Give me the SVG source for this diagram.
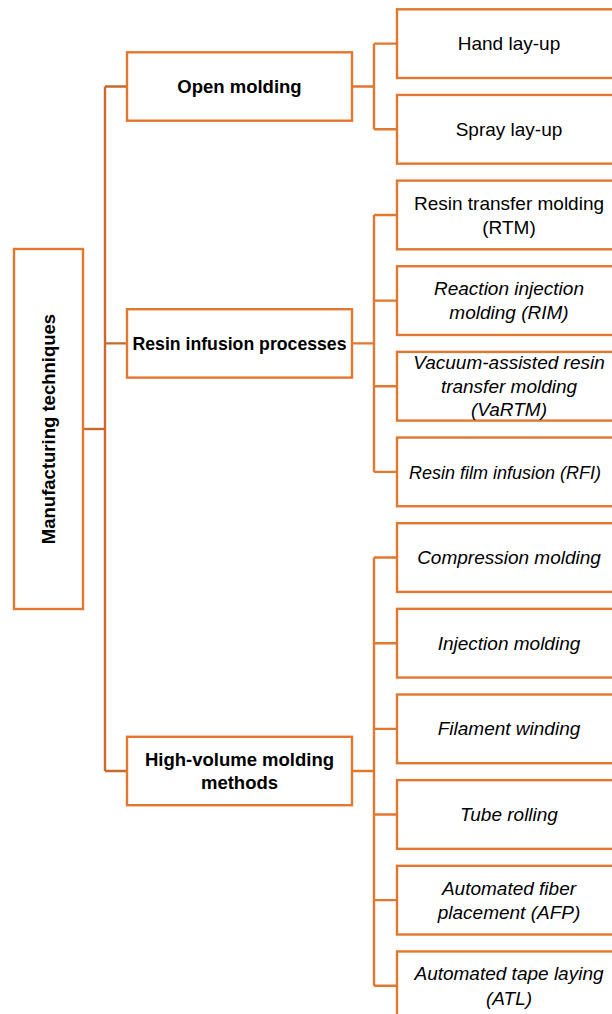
<svg xmlns="http://www.w3.org/2000/svg" width="612" height="1014" viewBox="0 0 612 1014">
<style>
.box{fill:#fff;stroke:#E2772F;stroke-width:2.4}
.main{fill:none;stroke:#C8692D;stroke-width:2.4}
.sub{fill:none;stroke:#E2772F;stroke-width:2.4}
text{font-family:"Liberation Sans",Arial,sans-serif;fill:#000;text-anchor:middle}
.b{font-weight:bold;font-size:18.5px}
.r{font-size:19px}
.i{font-size:19px;font-style:italic}
</style>
<rect width="612" height="1014" fill="#fff"/>
<g id="connectors">
<path class="main" d="M105,86.5 V771 M105,86.5 H127 M105,343.4 H127 M105,771 H127"/>
<path class="main" d="M83,429 H105" stroke-width="3.2"/>
<path class="sub" d="M352,86.5 H374 M374,43.65 V129.3 M374,43.65 H397 M374,129.3 H397"/>
<path class="sub" d="M352,343.4 H374 M374,214.95 V471.9 M374,214.95 H397 M374,300.6 H397 M374,386.25 H397 M374,471.9 H397"/>
<path class="sub" d="M352,771 H374 M374,557.55 V985.8 M374,557.55 H397 M374,643.2 H397 M374,728.85 H397 M374,814.5 H397 M374,900.15 H397 M374,985.8 H397"/>
</g>
<g id="root">
<rect class="box" x="14" y="249" width="69" height="360"/>
<text class="b" transform="translate(55,429) rotate(-90)">Manufacturing techniques</text>
</g>
<g id="open-molding">
<rect class="box" x="127" y="52.3" width="225" height="68.4"/>
<text class="b" x="239.5" y="93.1">Open molding</text>
</g>
<g id="resin-infusion">
<rect class="box" x="127" y="309.2" width="225" height="68.4"/>
<text class="b" x="239.5" y="350" textLength="214" lengthAdjust="spacingAndGlyphs">Resin infusion processes</text>
</g>
<g id="high-volume">
<rect class="box" x="127" y="736.8" width="225" height="68.4"/>
<text class="b" x="239.5" y="766.2">High-volume molding</text>
<text class="b" x="239.5" y="789">methods</text>
</g>
<g id="hand-lay-up">
<rect class="box" x="397" y="9.3" width="225" height="68.7"/>
<text class="r" x="509" y="50.2">Hand lay-up</text>
</g>
<g id="spray-lay-up">
<rect class="box" x="397" y="94.95" width="225" height="68.7"/>
<text class="r" x="509" y="135.9">Spray lay-up</text>
</g>
<g id="rtm">
<rect class="box" x="397" y="180.6" width="225" height="68.7"/>
<text class="r" x="509" y="209.5">Resin transfer molding</text>
<text class="r" x="509" y="233.8">(RTM)</text>
</g>
<g id="rim">
<rect class="box" x="397" y="266.25" width="225" height="68.7"/>
<text class="i" x="509" y="295.2">Reaction injection</text>
<text class="i" x="509" y="319.4">molding (RIM)</text>
</g>
<g id="vartm">
<rect class="box" x="397" y="351.9" width="225" height="68.7"/>
<text class="i" x="509" y="369.4">Vacuum-assisted resin</text>
<text class="i" x="509" y="392.8">transfer molding</text>
<text class="i" x="509" y="416">(VaRTM)</text>
</g>
<g id="rfi">
<rect class="box" x="397" y="437.55" width="225" height="68.7"/>
<text class="i" x="505" y="478.5" textLength="192" lengthAdjust="spacingAndGlyphs">Resin film infusion (RFI)</text>
</g>
<g id="compression">
<rect class="box" x="397" y="523.2" width="225" height="68.7"/>
<text class="i" x="509" y="564.1">Compression molding</text>
</g>
<g id="injection">
<rect class="box" x="397" y="608.85" width="225" height="68.7"/>
<text class="i" x="509" y="649.8">Injection molding</text>
</g>
<g id="filament">
<rect class="box" x="397" y="694.5" width="225" height="68.7"/>
<text class="i" x="509" y="735.4">Filament winding</text>
</g>
<g id="tube">
<rect class="box" x="397" y="780.15" width="225" height="68.7"/>
<text class="i" x="509" y="821.1">Tube rolling</text>
</g>
<g id="afp">
<rect class="box" x="397" y="865.8" width="225" height="68.7"/>
<text class="i" x="509" y="894.8">Automated fiber</text>
<text class="i" x="509" y="918.9">placement (AFP)</text>
</g>
<g id="atl">
<rect class="box" x="397" y="951.45" width="225" height="68.7"/>
<text class="i" x="509" y="980.4">Automated tape laying</text>
<text class="i" x="509" y="1004.6">(ATL)</text>
</g>
</svg>
